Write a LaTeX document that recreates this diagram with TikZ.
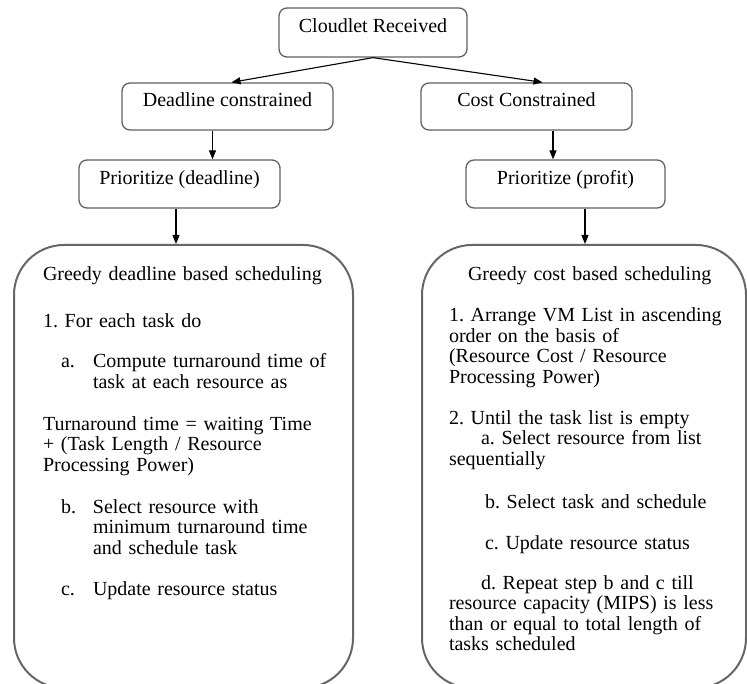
\documentclass[tikz,border=0pt]{standalone}
\usepackage{fontspec}
\setmainfont{Liberation Serif}
\usetikzlibrary{arrows.meta}

\begin{document}
\begin{tikzpicture}[x=1pt, y=-1pt, font=\fontsize{20}{20.5}\selectfont\frenchspacing,
	box/.style={draw=black!62, line width=1.3pt, rounded corners=8pt, inner sep=0pt, text height=24pt, text depth=23pt},
	bigbox/.style={draw=black!60, line width=2pt, rounded corners=50pt, align=left, inner ysep=0pt, text height=36pt, text depth=407pt, anchor=north west},
	arr/.style={-{Triangle[length=9pt,width=7pt]}, line width=1.1pt}]
 \useasboundingbox (0,0) rectangle (747,684);
 \node[box, minimum width=188pt, text height=25pt, text depth=24pt] (cloud) at (373,32.5) {Cloudlet Received};
 \node[box, minimum width=211pt] (dead) at (227.5,106.5) {Deadline constrained};
 \node[box, minimum width=211pt] (cost) at (526.5,106.5) {Cost Constrained};
 \node[box, minimum width=201pt, text height=25pt] (pridead) at (179.5,184) {Prioritize (deadline)};
 \node[box, minimum width=199pt, text height=25pt] (pricost) at (565.5,184) {Prioritize (profit)};
 \node[bigbox, inner xsep=24.5pt, text width=290pt, execute at begin node={\leftskip 4.5pt\relax}] (greedyd) at (13,244) {Greedy deadline based scheduling\\[26.5pt]
	1. For each task do\\[19.5pt]
	\hspace*{18pt}\makebox[32pt][l]{a.}Compute turnaround time of\\
	\hspace*{50pt}task at each resource as\\[21.5pt]
	Turnaround time = waiting Time\\
	+ (Task Length / Resource\\
	Processing Power)\\[21.5pt]
	\hspace*{18pt}\makebox[32pt][l]{b.}Select resource with\\
	\hspace*{50pt}minimum turnaround time\\
	\hspace*{50pt}and schedule task\\[21pt]
	\hspace*{18pt}\makebox[32pt][l]{c.}Update resource status};
 \node[bigbox, inner xsep=22pt, text width=280pt, execute at begin node={\leftskip 5pt\relax}] (greedyc) at (421,244) {\hspace*{19pt}Greedy cost based scheduling\\[20.5pt]
	1. Arrange VM List in ascending\\
	order on the basis of\\
	(Resource Cost / Resource\\
	Processing Power)\\[20.5pt]
	2. Until the task list is empty\\
	\hspace*{32pt}a. Select resource from list\\
	sequentially\\[22.5pt]
	\hspace*{36pt}b. Select task and schedule\\[20.5pt]
	\hspace*{36pt}c. Update resource status\\[19.5pt]
	\hspace*{32pt}d. Repeat step b and c till\\
	resource capacity (MIPS) is less\\
	than or equal to total length of\\
	tasks scheduled};
 \draw[arr] (cloud.south) -- ([xshift=4pt]dead.north);
 \draw[arr] (cloud.south) -- ([xshift=16pt]cost.north);
 \draw[arr] ([xshift=-15pt]dead.south) coordinate (d1) -- (d1 |- pridead.north);
 \draw[arr] ([xshift=26.5pt]cost.south) coordinate (c1) -- (c1 |- pricost.north);
 \draw[arr] ([xshift=-3.5pt]pridead.south) coordinate (d2) -- (d2 |- greedyd.north);
 \draw[arr] ([xshift=19.5pt]pricost.south) coordinate (c2) -- (c2 |- greedyc.north);
\end{tikzpicture}
\end{document}
